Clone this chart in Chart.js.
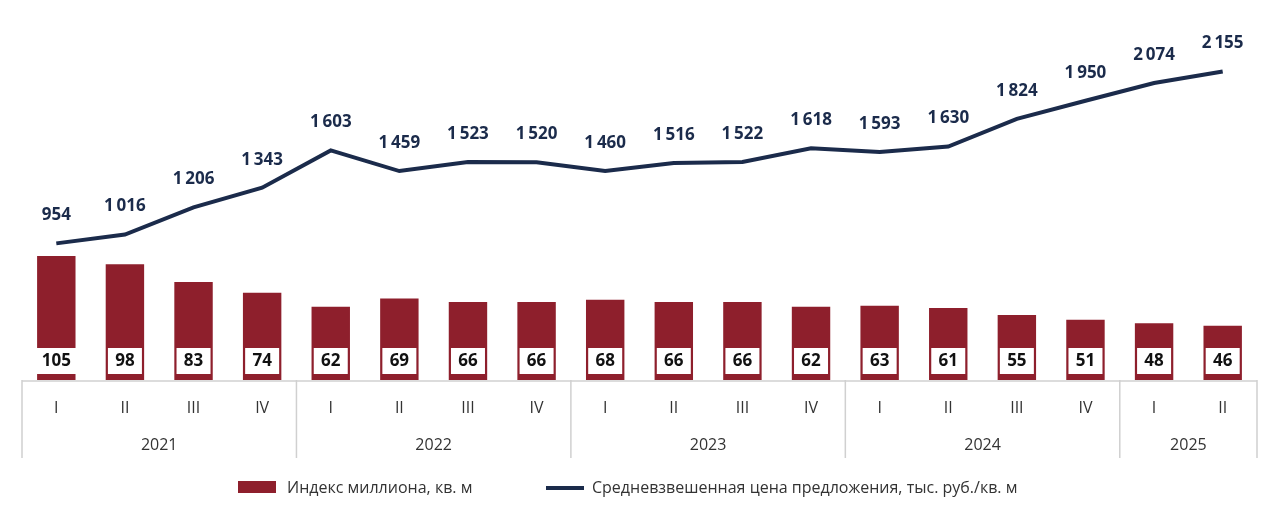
<!DOCTYPE html><html><head><meta charset="utf-8">
<script src="https://cdn.jsdelivr.net/npm/chart.js@4"></script>
<style>html,body{margin:0;background:#fff}#w{width:1280px;height:518px}</style></head><body><div id="w"><canvas id="c"></canvas></div>
<script>
const quarters=["I","II","III","IV","I","II","III","IV","I","II","III","IV","I","II","III","IV","I","II"];
const categories=quarters.slice(0,18).filter((q,i)=>i<18);
const years=["2021","2022","2023","2024","2025"];
const yearCounts=[4,4,4,4,2];
const millionIndex=[105,98,83,74,62,69,66,66,68,66,66,62,63,61,55,51,48,46];
const price=[954,1016,1206,1343,1603,1459,1523,1520,1460,1516,1522,1618,1593,1630,1824,1950,2074,2155];
const labels=quarters.slice(0,millionIndex.length);
const RED='#8E1F2C',NAVY='#1B2B4B',GRID='#d0d0d0';
const fmt=v=>String(v).replace(/\B(?=(\d{3})+(?!\d))/g,'\u2009');
const deco={id:'deco',afterDatasetsDraw(ch){
 const c=ch.ctx,a=ch.chartArea,x=ch.scales.x;
 const bm=ch.getDatasetMeta(0),lm=ch.getDatasetMeta(1);
 c.save();
 c.font='bold 17px "Open Sans"';c.textAlign='center';c.textBaseline='middle';
 bm.data.forEach((b,i)=>{const w=fmt(millionIndex[i]);const tw=Math.max(c.measureText(w).width+12,34);
  c.fillStyle='#fff';c.fillRect(b.x-tw/2,a.bottom-32,tw,26);c.fillStyle='#111';c.fillText(w,b.x,a.bottom-19);});
 c.fillStyle=NAVY;
 lm.data.forEach((p,i)=>c.fillText(fmt(price[i]),p.x,p.y-28));
 // axis boxes
 const step=(a.right-a.left)/labels.length;
 c.strokeStyle=GRID;c.lineWidth=1.5;
 c.beginPath();c.moveTo(a.left,a.bottom+1);c.lineTo(a.right,a.bottom+1);c.stroke();
 c.font='16px "Open Sans"';c.fillStyle='#333';
 labels.forEach((l,i)=>c.fillText(l,a.left+step*(i+0.5),a.bottom+28));
 let k=0;
 c.beginPath();c.moveTo(a.left,a.bottom);c.lineTo(a.left,a.bottom+78);
 years.forEach((y,j)=>{const s=a.left+step*k;k+=yearCounts[j];const e=a.left+step*k;
  c.moveTo(e,a.bottom);c.lineTo(e,a.bottom+78);c.fillText(y,(s+e)/2,a.bottom+65);});
 c.stroke();
 // legend
 c.fillStyle=RED;c.fillRect(238,481,38,12);
 c.fillStyle='#333';c.textAlign='left';c.fillText('Индекс миллиона, кв. м',287,488);
 c.strokeStyle=NAVY;c.lineWidth=4;c.beginPath();c.moveTo(546,488);c.lineTo(584,488);c.stroke();
 c.fillText('Средневзвешенная цена предложения, тыс. руб./кв. м',592,488);
 c.restore();}};
new Chart(document.getElementById('c'),{data:{labels,datasets:[
 {type:'bar',data:millionIndex,backgroundColor:RED,yAxisID:'y',categoryPercentage:1,barPercentage:0.56,order:2},
 {type:'line',data:price,borderColor:NAVY,borderWidth:4,pointRadius:0,yAxisID:'y2',tension:0,order:1}]},
 options:{responsive:true,maintainAspectRatio:false,animation:false,
 layout:{padding:{left:22,right:23,top:20,bottom:138}},
 plugins:{legend:{display:false},tooltip:{enabled:false}},
 scales:{x:{display:false},y:{display:false,min:0,max:305},y2:{display:false,min:0,max:2514}}},
 plugins:[deco]});
</script></body></html>
